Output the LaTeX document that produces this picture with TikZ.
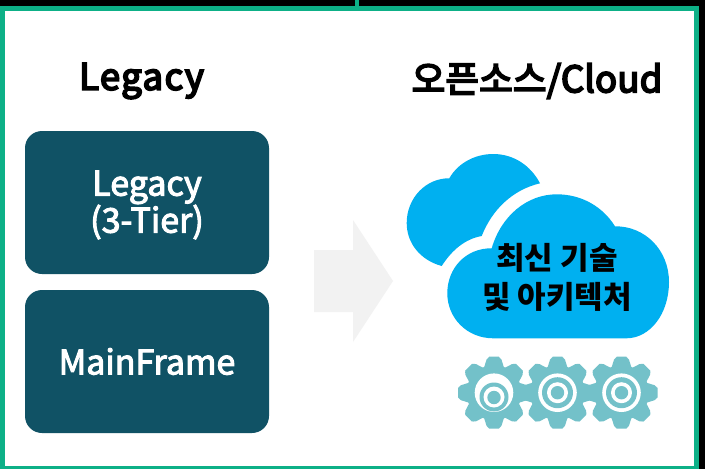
\documentclass[tikz,border=0pt]{standalone}
\usepackage{fontspec}
\setmainfont{Noto Sans CJK KR}
\newfontfamily\medfont[FakeBold=3]{Noto Sans CJK KR}
\newfontfamily\semifont[FakeBold=5,LetterSpace=4]{Noto Sans CJK KR}
\newfontfamily\semikor[FakeBold=5,LetterSpace=0.6]{Noto Sans CJK KR}
\definecolor{frameG}{HTML}{0DB087}
\definecolor{boxB}{HTML}{105265}
\definecolor{cloudB}{HTML}{00B0F0}
\definecolor{gearT}{HTML}{73C1C9}
\definecolor{arrowG}{HTML}{F2F2F2}
\tikzset{
  legacybox/.style={fill=boxB,draw=none,rounded corners=17pt},
  boxtext/.style={text=white,font=\fontsize{34}{37}\selectfont\medfont,align=center,inner sep=0pt},
  titletext/.style={text=black,inner sep=0pt},
  cloudtext/.style={text=black,font=\fontsize{31}{39.5}\selectfont\bfseries,align=center,inner sep=0pt},
  geartooth/.pic={\fill[gearT] (0,-8.5) -- (25,-10) -- (33,-7.5) to[out=0,in=-90] (36,-5) -- (36,5) to[out=90,in=0] (33,7.5) -- (25,10) -- (0,8.5) -- cycle;}
}
\begin{document}
\begin{tikzpicture}[x=1pt,y=-1pt]
\useasboundingbox (0,0) rectangle (705,469);
\fill[black] (0,0) rectangle (705,469);
\fill[frameG] (0,6) rectangle (699,469);
\fill[frameG] (355,0) rectangle (359,6);
\fill[white] (5,11) rectangle (694,466);

\node[titletext,font=\fontsize{36.5}{42}\selectfont\semifont] (t1) at (141.5,81) {Legacy};
\node[titletext,font=\fontsize{36.5}{42}\selectfont\semikor] (t2) at (537,81) {오픈소스/Cloud};

\fill[legacybox] (25,131) rectangle (269,274);
\fill[legacybox] (25,290) rectangle (269,433);
\node[boxtext] (b1) at (147,205) {Legacy\\(3-Tier)};
\node[boxtext] (b2) at (147,361.5) {MainFrame};

\fill[arrowG] (314,250) -- (353,250) -- (353,220) -- (393,281) -- (353,342) -- (353,312) -- (314,312) -- cycle;

% back cloud
\fill[cloudB] (441.7,266) .. controls (420,260) and (406.7,243) .. (406.7,223)
  .. controls (406.7,198) and (426,178) .. (449.3,178.3)
  .. controls (458,163) and (475,154) .. (493.3,154)
  .. controls (514,154) and (531,166) .. (540,183.3)
  .. controls (512,190) and (492,210) .. (481.7,236)
  .. controls (465,239) and (452,250) .. (441.7,266) -- cycle;
% front cloud
\fill[cloudB] (493.3,338.3) -- (626.7,338.3)
  .. controls (650,338) and (669,314) .. (669,282)
  .. controls (669,250) and (645,226) .. (615,226.3)
  .. controls (603,207) and (582,194.3) .. (556.7,194.3)
  .. controls (527,194.3) and (501,216) .. (491.7,248.3)
  .. controls (466,248) and (447.3,268) .. (447.3,293.3)
  .. controls (447.3,318) and (467,338.3) .. (493.3,338.3) -- cycle;
\node[cloudtext] (c1) at (557,277.5) {최신 기술\\및 아키텍처};

% gears
\foreach \cx/\nm in {494/a,557.5/b,621.5/c}{
  \fill[gearT] (\cx,392.7) circle[radius=27.5];
  \foreach \ang in {0,45,...,315}{
    \pic[rotate=\ang] at (\cx,392.7) {geartooth};
  }
}
\fill[white] (494,392.7) circle[radius=19.3];
\fill[gearT] (494,397) circle[radius=14.5];
\fill[white] (494,397) circle[radius=10.5];
\fill[gearT] (494,397.5) circle[radius=6.7];
\foreach \cx in {557.5,621.5}{
  \fill[white] (\cx,392.7) circle[radius=19.3];
  \fill[gearT] (\cx,392.7) circle[radius=15.5];
  \fill[white] (\cx,392.7) circle[radius=10.5];
  \fill[gearT] (\cx,392.7) circle[radius=6.7];
}
\end{tikzpicture}
\end{document}
